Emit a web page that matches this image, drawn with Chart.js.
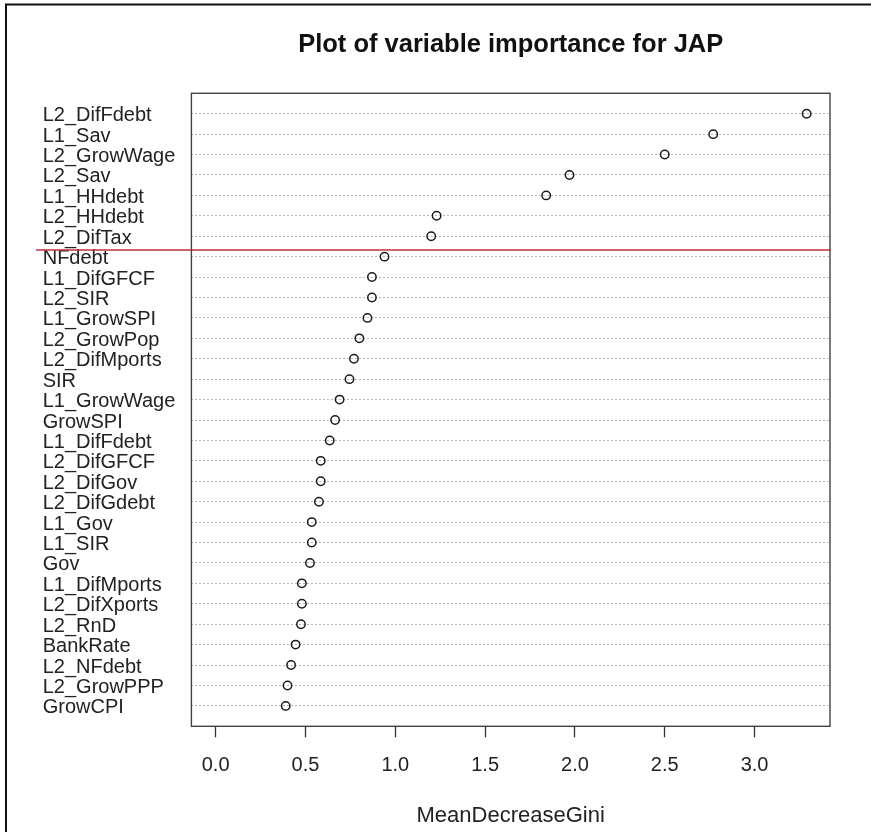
<!DOCTYPE html>
<html>
<head>
<meta charset="utf-8">
<script src="https://cdn.jsdelivr.net/npm/chart.js@4.4.1/dist/chart.umd.min.js"></script>
<style>
  html, body { margin: 0; padding: 0; background: #fff; }
  #wrap { width: 871px; height: 832px; }
</style>
</head>
<body>
<div id="wrap"><canvas id="chart" width="871" height="832"></canvas></div>
<script>
// Variables ordered from most to least important (top row first)
const variables = [
  'L2_DifFdebt', 'L1_Sav', 'L2_GrowWage', 'L2_Sav', 'L1_HHdebt', 'L2_HHdebt',
  'L2_DifTax', 'NFdebt', 'L1_DifGFCF', 'L2_SIR', 'L1_GrowSPI', 'L2_GrowPop',
  'L2_DifMports', 'SIR', 'L1_GrowWage', 'GrowSPI', 'L1_DifFdebt', 'L2_DifGFCF',
  'L2_DifGov', 'L2_DifGdebt', 'L1_Gov', 'L1_SIR', 'Gov', 'L1_DifMports',
  'L2_DifXports', 'L2_RnD', 'BankRate', 'L2_NFdebt', 'L2_GrowPPP', 'GrowCPI'
];

// Mean decrease in Gini impurity for each variable
const meanDecreaseGini = [
  3.29, 2.77, 2.50, 1.97, 1.84, 1.23,
  1.20, 0.94, 0.87, 0.87, 0.845, 0.80,
  0.77, 0.745, 0.69, 0.665, 0.635, 0.585,
  0.585, 0.575, 0.535, 0.535, 0.525, 0.48,
  0.48, 0.475, 0.445, 0.42, 0.40, 0.39
];

// Axis ticks and range
const xTicks = [0, 0.5, 1.0, 1.5, 2.0, 2.5, 3.0];
const xRange = [-0.135, 3.42];

// Cut-off line separating the top variables (row units, drawn past the left axis)
const cutoffRow = 23.32;
const cutoffFrom = -1.0;

const FONT = "'Liberation Sans', Arial, sans-serif";
const n = variables.length;

const points = variables.map((name, i) => ({ x: meanDecreaseGini[i], y: n - i }));

const frame = {
  id: 'frame',
  beforeDraw(chart) {
    const ctx = chart.ctx;
    ctx.save();
    ctx.fillStyle = '#ffffff';
    ctx.fillRect(0, 0, chart.width, chart.height);
    ctx.restore();
  },
  afterDraw(chart) {
    const { ctx, chartArea: a } = chart;
    ctx.save();
    // plot box
    ctx.strokeStyle = '#444';
    ctx.lineWidth = 1.4;
    ctx.strokeRect(a.left, a.top, a.right - a.left, a.bottom - a.top);
    // outer frame
    ctx.strokeStyle = '#111';
    ctx.lineWidth = 2;
    ctx.strokeRect(6, 4.5, 2000, 2000);
    ctx.restore();
  }
};

new Chart(document.getElementById('chart'), {
  type: 'scatter',
  data: {
    datasets: [
      {
        data: points,
        pointStyle: 'circle',
        pointRadius: 4.2,
        pointBorderWidth: 1.5,
        pointBorderColor: '#1a1a1a',
        pointBackgroundColor: 'rgba(0,0,0,0)',
        showLine: false,
        order: 1
      },
      {
        type: 'line',
        data: [{ x: cutoffFrom, y: cutoffRow }, { x: xRange[1], y: cutoffRow }],
        borderColor: '#c0303c',
        borderWidth: 1.5,
        pointRadius: 0,
        clip: false,
        order: 0
      }
    ]
  },
  options: {
    responsive: false,
    animation: false,
    devicePixelRatio: 1,
    layout: { padding: { left: 42.7, right: 41, top: 0, bottom: 0 } },
    plugins: {
      legend: { display: false },
      tooltip: { enabled: false },
      title: {
        display: true,
        fullSize: false,
        text: 'Plot of variable importance for JAP',
        color: '#111',
        font: { family: FONT, size: 25.5, weight: 'bold' },
        padding: { top: 30, bottom: 32.7 }
      }
    },
    scales: {
      x: {
        type: 'linear',
        min: xRange[0],
        max: xRange[1],
        afterBuildTicks: s => { s.ticks = xTicks.map(v => ({ value: v })); },
        afterFit: s => { s.height = 832 - 726.3; },
        grid: {
          drawOnChartArea: false,
          drawTicks: true,
          tickLength: 11,
          tickColor: '#333',
          tickWidth: 1.3
        },
        border: { display: false },
        ticks: {
          padding: 16,
          color: '#222',
          maxRotation: 0,
          autoSkip: false,
          font: { family: FONT, size: 20 },
          callback: v => Number(v).toFixed(1)
        },
        title: {
          display: true,
          text: 'MeanDecreaseGini',
          color: '#222',
          font: { family: FONT, size: 22 },
          padding: { top: 0, bottom: 3 }
        }
      },
      y: {
        type: 'linear',
        min: 0,
        max: n + 1,
        afterBuildTicks: s => { s.ticks = variables.map((_, i) => ({ value: n - i })); },
        afterFit: s => { s.width = 191.4 - 42.7; },
        grid: { color: '#b8b8b8', lineWidth: 1, drawTicks: false },
        border: { display: false, dash: [2, 2] },
        ticks: {
          crossAlign: 'far',
          padding: 0,
          labelOffset: 2,
          autoSkip: false,
          color: '#222',
          font: { family: FONT, size: 20 },
          callback: v => variables[n - v]
        }
      }
    }
  },
  plugins: [frame]
});
</script>
</body>
</html>
